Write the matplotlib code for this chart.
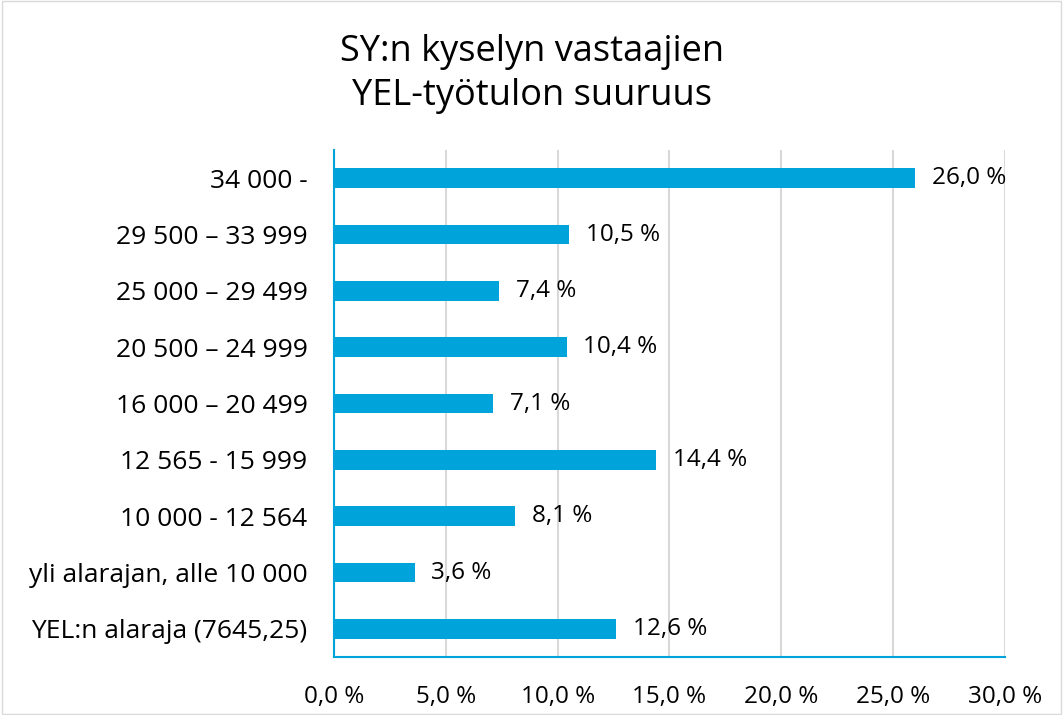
import matplotlib.pyplot as plt
from matplotlib.patches import Rectangle

categories = ['YEL:n alaraja (7645,25)', 'yli alarajan, alle 10 000', '10 000 - 12 564',
              '12 565 - 15 999', '16 000 – 20 499', '20 500 – 24 999',
              '25 000 – 29 499', '29 500 – 33 999', '34 000 -']
values = [12.6, 3.6, 8.1, 14.4, 7.1, 10.4, 7.4, 10.5, 26.0]
xticks = [0, 5, 10, 15, 20, 25, 30]

blue = '#00A4DA'
plt.rcParams['font.family'] = ['Open Sans', 'DejaVu Sans']

fig = plt.figure(figsize=(10.63, 7.15), dpi=100)
ax = fig.add_axes([0.3142, 0.0811, 0.6312, 0.7091])

y = range(len(categories))
ax.barh(y, values, height=0.35, color=blue, zorder=3)
for i, v in enumerate(values):
    ax.text(v + 0.75, i, f'{v:.1f}'.replace('.', ',') + ' %', va='center', ha='left',
            fontsize=17.5, color='#000000')

ax.set_xlim(0, 30)
ax.set_ylim(-0.5, len(categories) - 0.5)
ax.set_xticks(xticks)
ax.set_xticklabels([f'{t:.1f}'.replace('.', ',') + ' %' for t in xticks], fontsize=17.5)
ax.set_yticks(list(y))
ax.set_yticklabels(categories, fontsize=19)
ax.tick_params(axis='x', length=0, pad=20)
ax.tick_params(axis='y', length=0, pad=19)
ax.grid(axis='x', color='#D9D9D9', linewidth=1.5, zorder=0)
for s in ['top', 'right']:
    ax.spines[s].set_visible(False)
for s in ['left', 'bottom']:
    ax.spines[s].set_color(blue)
    ax.spines[s].set_linewidth(1.5)

fig.text(0.5005, 0.897, 'SY:n kyselyn vastaajien\nYEL-työtulon suuruus', ha='center', va='center',
         fontsize=26, linespacing=1.3)
fig.patches.append(Rectangle((0.002, 0.002), 0.996, 0.996, transform=fig.transFigure,
                             fill=False, edgecolor='#D9D9D9', linewidth=1))

fig.savefig('out.png', dpi=100)
